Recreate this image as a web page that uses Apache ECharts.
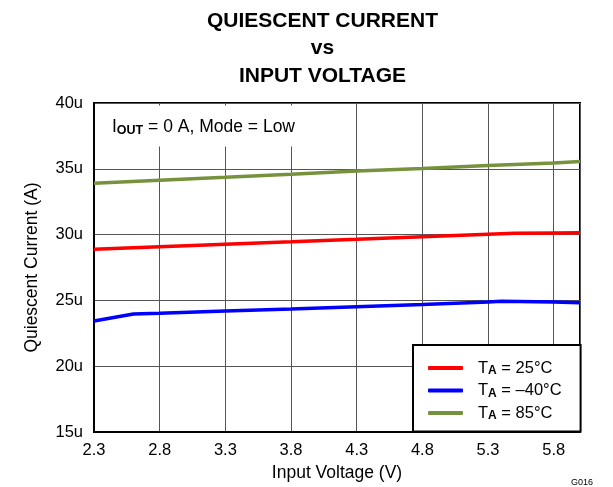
<!DOCTYPE html>
<html>
<head>
<meta charset="utf-8">
<script src="https://cdn.jsdelivr.net/npm/echarts@6/dist/echarts.min.js"></script>
<style>
html,body{margin:0;padding:0;background:#fff;}
#c{width:613px;height:487px;}
</style>
</head>
<body>
<div id="c"></div>
<script>
// Data (Input Voltage in V, Quiescent Current in µA)
const tempLabels = ['25°C', '–40°C', '85°C'];
const colors = ['#ff0000', '#0000ff', '#76923c'];

const v25 = [2.3, 2.8, 3.3, 3.8, 4.3, 4.8, 5.3, 5.5, 5.8, 6.0];
const i25 = [28.88, 29.08, 29.27, 29.45, 29.64, 29.84, 30.03, 30.1, 30.13, 30.15];

const vM40 = [2.3, 2.6, 2.8, 3.3, 3.8, 4.3, 4.8, 5.3, 5.4, 5.8, 6.0];
const iM40 = [23.43, 23.97, 24.03, 24.19, 24.35, 24.52, 24.68, 24.88, 24.93, 24.87, 24.83];

const v85 = [2.3, 2.8, 3.3, 3.8, 4.3, 4.8, 5.3, 5.8, 6.0];
const i85 = [33.9, 34.13, 34.35, 34.58, 34.83, 35.03, 35.26, 35.45, 35.55];

const xMin = 2.3, xMax = 6.0, xStep = 0.5;
const yMin = 15, yMax = 40, yStep = 5;

const FONT = '"Liberation Sans", Arial, sans-serif';

function pairs(xs, ys) { return xs.map((x, i) => [x, ys[i]]); }
const seriesData = [pairs(v25, i25), pairs(vM40, iM40), pairs(v85, i85)];
const names = tempLabels.map(t => 'TA = ' + t);

const chart = echarts.init(document.getElementById('c'), null, {renderer: 'canvas'});
chart.setOption({
  animation: false,
  backgroundColor: '#fff',
  textStyle: {fontFamily: FONT},
  title: [{
    text: '{a|I}{b|OUT}{a| = 0 A, Mode = Low}',
    left: 96, top: 104.5,
    padding: [13, 44, 9, 16],
    backgroundColor: '#fff',
    textStyle: {
      fontWeight: 'normal',
      rich: {
        a: {fontSize: 17.5, fontFamily: FONT, fontWeight: 'normal', color: '#000', lineHeight: 20},
        b: {fontSize: 12.5, fontFamily: FONT, fontWeight: 'bold', color: '#000', lineHeight: 14, verticalAlign: 'bottom'}
      }
    }
  }],
  graphic: [
    {type: 'text', x: 322.5, y: 7, z: 100,
     style: {text: 'QUIESCENT CURRENT\nvs\nINPUT VOLTAGE', align: 'center', verticalAlign: 'top',
             fontSize: 21, fontWeight: 'bold', fontFamily: FONT, lineHeight: 27.5, fill: '#000'}},
    {type: 'text', x: 593, y: 483, z: 100,
     style: {text: 'G016', align: 'right', verticalAlign: 'middle', fontSize: 9, fontFamily: FONT, fill: '#000'}}
  ],
  legend: {
    orient: 'vertical',
    left: 413, top: 345,
    padding: [14.5, 19, 9.5, 15],
    backgroundColor: '#fff',
    borderColor: '#000',
    borderWidth: 2,
    borderRadius: 0,
    itemWidth: 35, itemHeight: 4, itemGap: 5,
    icon: 'roundRect',
    align: 'left',
    data: names,
    formatter: function (name) {
      const idx = names.indexOf(name);
      return '{t|T}{s|A}{t| = ' + tempLabels[idx] + '}';
    },
    textStyle: {
      padding: [0, 0, 0, 10],
      rich: {
        t: {fontSize: 16.5, fontFamily: FONT, color: '#000', lineHeight: 18},
        s: {fontSize: 12, fontFamily: FONT, fontWeight: 'bold', color: '#000', lineHeight: 13, verticalAlign: 'bottom'}
      }
    }
  },
  grid: {left: 94, right: 33, top: 103, bottom: 55, show: true, borderColor: '#000', borderWidth: 2, containLabel: false},
  xAxis: {
    type: 'value', min: xMin, max: xMax, interval: xStep,
    name: 'Input Voltage (V)', nameLocation: 'middle', nameGap: 28,
    nameTextStyle: {fontSize: 17.5, fontFamily: FONT, color: '#000'},
    axisLine: {show: true, lineStyle: {color: '#000', width: 2}},
    axisTick: {show: false},
    axisLabel: {fontSize: 16.5, fontFamily: FONT, color: '#000', margin: 10, showMaxLabel: false,
                formatter: v => v.toFixed(1)},
    splitLine: {show: true, lineStyle: {color: '#555', width: 1}}
  },
  yAxis: {
    type: 'value', min: yMin, max: yMax, interval: yStep,
    name: 'Quiescent Current (A)', nameLocation: 'middle', nameGap: 53,
    nameTextStyle: {fontSize: 17.5, fontFamily: FONT, color: '#000'},
    axisLine: {show: true, lineStyle: {color: '#000', width: 2}},
    axisTick: {show: false},
    axisLabel: {fontSize: 16.5, fontFamily: FONT, color: '#000', margin: 11,
                formatter: v => v + 'u'},
    splitLine: {show: true, lineStyle: {color: '#555', width: 1}}
  },
  series: seriesData.map((d, i) => ({
    name: names[i],
    type: 'line',
    data: d,
    symbol: 'none',
    smooth: false,
    color: colors[i],
    lineStyle: {color: colors[i], width: 3.5},
    z: 3
  }))
});
</script>
</body>
</html>
